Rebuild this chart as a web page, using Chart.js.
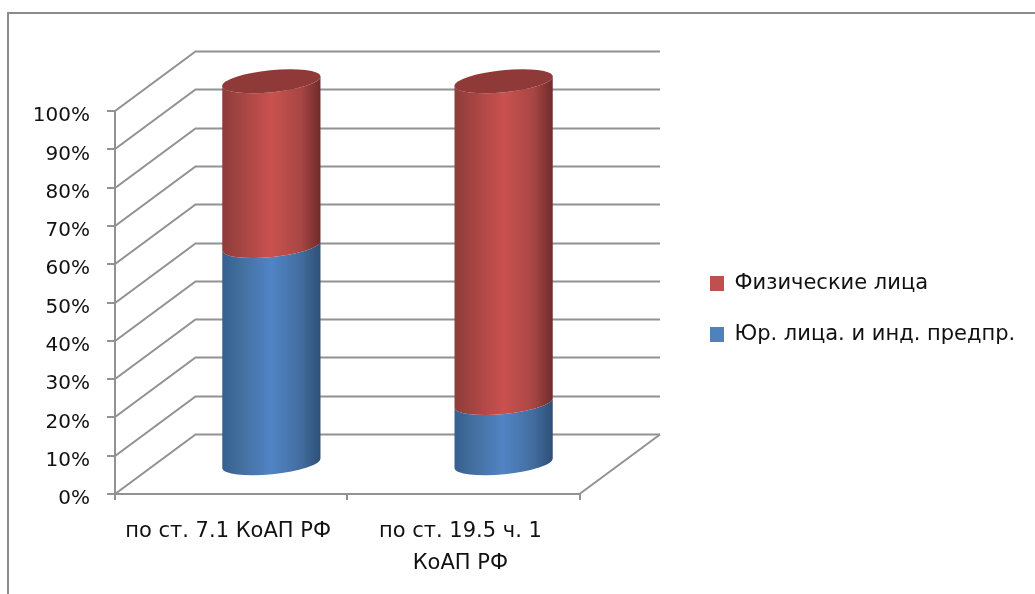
<!DOCTYPE html>
<html>
<head>
<meta charset="utf-8">
<script src="https://cdn.jsdelivr.net/npm/chart.js@4/dist/chart.umd.min.js"></script>
<style>
  html, body { margin: 0; background: #fff; }
  #wrap { position: relative; width: 1035px; height: 594px; overflow: hidden; }
  #frame { position: absolute; left: 7px; top: 12px; width: 1040px; height: 600px; border: 2px solid #8c8c8c; }
  canvas { position: absolute; left: 0; top: 0; }
</style>
</head>
<body>
<div id="wrap">
  <div id="frame"></div>
  <canvas id="chart" width="1035" height="594"></canvas>
</div>
<script>
const categories = ['по ст. 7.1 КоАП РФ', ['по ст. 19.5 ч. 1', 'КоАП РФ']];
const companies = [57, 16];
const persons = [43, 84];

// how far the back wall sits from the front axes
const DEPTH_X = 80.5;
const DEPTH_Y = -59.5;
const Y_TICK_LENGTH = 8;
const GRID_COLOR = '#929292';
const TEXT_COLOR = '#111';
const FONT = 'DejaVu Sans';

// left edge, left-mid, centre, right-mid, right edge
const SHADES = {
  '#4F81BD': ['#345f90', '#44709f', '#5184c6', '#426d9f', '#2e4f76'],
  '#C0504D': ['#8e3b39', '#a54543', '#ca514e', '#a84644', '#6e2b2a']
};
const CAP_COLOR = '#8f3a38';

const wallsAndCylinders = {
  id: 'wallsAndCylinders',
  afterLayout(chart) {
    // layout caps a side box at a fraction of the width, so refit the legend
    // without the cap and put it where it belongs
    const legend = chart.legend;
    const middle = 309;
    legend.maxWidth = 400;
    legend.fit();
    legend.left = 680;
    legend.right = 680 + legend.width;
    legend.top = middle - legend.height / 2;
    legend.bottom = middle + legend.height / 2;
  },
  beforeDatasetsDraw(chart) {
    const { ctx, scales } = chart;
    const { x: xScale, y: yScale } = scales;

    ctx.save();
    ctx.strokeStyle = GRID_COLOR;
    ctx.lineWidth = 2;
    for (const tick of yScale.ticks) {
      const y = Math.round(yScale.getPixelForValue(tick.value));
      // tick mark, side wall, back wall
      ctx.beginPath();
      ctx.moveTo(xScale.left - Y_TICK_LENGTH, y);
      ctx.lineTo(xScale.left, y);
      ctx.lineTo(xScale.left + DEPTH_X, y + DEPTH_Y);
      ctx.lineTo(xScale.right + DEPTH_X, y + DEPTH_Y);
      ctx.stroke();
    }
    // right side of the floor
    const floorY = yScale.getPixelForValue(0);
    ctx.beginPath();
    ctx.moveTo(xScale.right, floorY);
    ctx.lineTo(xScale.right + DEPTH_X, floorY + DEPTH_Y);
    ctx.stroke();

    // cylinders stand halfway into the depth
    chart.data.datasets.forEach((dataset, i) => {
      chart.getDatasetMeta(i).data.forEach((bar) => {
        const cx = bar.x + DEPTH_X / 2;
        const rx = bar.width / 2;
        const ry = 11;
        const rot = -0.1;
        const bottom = bar.base + DEPTH_Y / 2;
        const top = bar.y + DEPTH_Y / 2;

        const grad = ctx.createLinearGradient(cx - rx, 0, cx + rx, 0);
        const shades = SHADES[dataset.backgroundColor];
        [0, 0.2, 0.5, 0.8, 1].forEach((stop, s) => grad.addColorStop(stop, shades[s]));

        ctx.beginPath();
        ctx.ellipse(cx, bottom, rx, ry, rot, 0, Math.PI);
        ctx.ellipse(cx, top, rx, ry, rot, Math.PI, 0, true);
        ctx.closePath();
        ctx.fillStyle = grad;
        ctx.fill();

        if (i === chart.data.datasets.length - 1) {
          ctx.beginPath();
          ctx.ellipse(cx, top, rx, ry, rot, 0, Math.PI * 2);
          ctx.fillStyle = CAP_COLOR;
          ctx.fill();
        }
      });
    });
    ctx.restore();
    return false;
  }
};

new Chart(document.getElementById('chart'), {
  type: 'bar',
  data: {
    labels: categories,
    datasets: [
      { label: 'Юр. лица. и инд. предпр.', data: companies, backgroundColor: '#4F81BD', borderWidth: 0 },
      { label: 'Физические лица', data: persons, backgroundColor: '#C0504D', borderWidth: 0 }
    ]
  },
  plugins: [wallsAndCylinders],
  options: {
    responsive: false,
    animation: false,
    devicePixelRatio: 1,
    categoryPercentage: 1,
    barPercentage: 0.425,
    layout: { padding: { top: 111, left: 0, right: 0, bottom: 0 } },
    plugins: {
      tooltip: { enabled: false },
      legend: {
        position: 'right',
        reverse: true,
        labels: {
          boxWidth: 14,
          boxHeight: 15,
          padding: 30,
          color: TEXT_COLOR,
          font: { family: FONT, size: 21 }
        }
      }
    },
    scales: {
      x: {
        stacked: true,
        grid: { drawOnChartArea: false, color: GRID_COLOR, lineWidth: 2, tickLength: 6 },
        border: { color: GRID_COLOR, width: 2 },
        ticks: {
          color: TEXT_COLOR,
          padding: 16,
          labelOffset: -3,
          maxRotation: 0,
          autoSkip: false,
          font: { family: FONT, size: 21, lineHeight: 32 / 21 }
        },
        afterFit(axis) { axis.height = 100; }
      },
      y: {
        stacked: true,
        min: 0,
        max: 100,
        grid: { drawOnChartArea: false, color: GRID_COLOR, lineWidth: 2, tickLength: Y_TICK_LENGTH },
        border: { color: GRID_COLOR, width: 2 },
        ticks: {
          stepSize: 10,
          padding: 17,
          labelOffset: 5,
          color: TEXT_COLOR,
          font: { family: FONT, size: 20 },
          callback: (value) => value + '%'
        },
        afterFit(axis) { axis.width = 115; }
      },
      // empty axis, keeps the gap between the plot and the legend
      gap: {
        type: 'linear',
        position: 'right',
        display: true,
        grid: { display: false },
        border: { display: false },
        ticks: { display: false },
        afterFit(axis) { axis.width = 283; }
      }
    }
  }
});
</script>
</body>
</html>
